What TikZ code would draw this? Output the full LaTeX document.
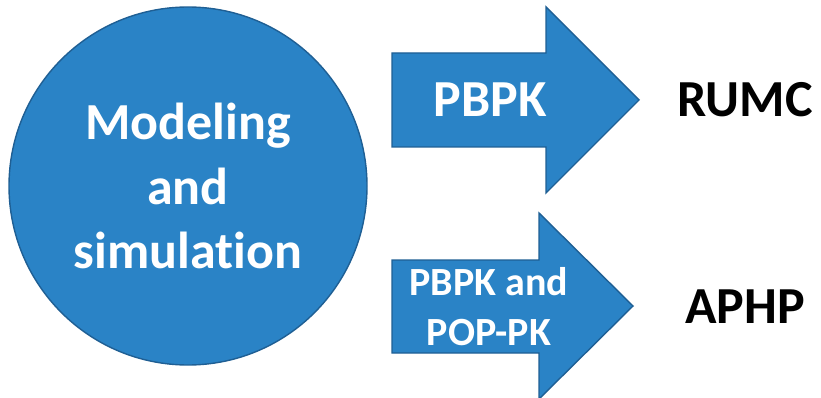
\documentclass[tikz,border=0pt]{standalone}
\usepackage{fontspec}
\setmainfont{Carlito}[Ligatures=NoCommon]
\definecolor{fillblue}{HTML}{2A83C6}
\definecolor{edgeblue}{HTML}{1F5F94}
\begin{document}
\begin{tikzpicture}[x=1pt,y=-1pt,
  blockshape/.style={fill=fillblue, draw=edgeblue, line width=1.4pt, line join=miter},
  intext/.style={text=white, font=\bfseries\fontsize{52}{64.5}\selectfont, align=center, inner sep=0pt},
  smalltext/.style={text=white, font=\bfseries\fontsize{40}{50}\selectfont, align=center, inner sep=0pt},
  outtext/.style={text=black, font=\bfseries\fontsize{52}{62}\selectfont, inner sep=0pt, anchor=base}]
\useasboundingbox (0,0) rectangle (821,398);
% circle
\node[blockshape, circle, minimum size=358pt, inner sep=0pt] (circ) at (188,186) {};
\node[intext] (circtext) at (188,186) {Modeling\\and\\simulation};
% arrow 1
\draw[blockshape] (392,53) -- (546,53) -- (546,7) -- (639,100) -- (546,193) -- (546,147) -- (392,147) -- cycle;
\node[intext, anchor=base] (a1text) at (490,117) {PBPK};
% arrow 2
\draw[blockshape] (392,260) -- (539,260) -- (539,213) -- (633,306) -- (539,399) -- (539,353) -- (392,353) -- cycle;
\node[smalltext] (a2text) at (489,307) {PBPK and\\POP-PK};
% labels
\node[outtext] (rumc) at (745,117) {RUMC};
\node[outtext] (aphp) at (745,323) {APHP};
\end{tikzpicture}
\end{document}
